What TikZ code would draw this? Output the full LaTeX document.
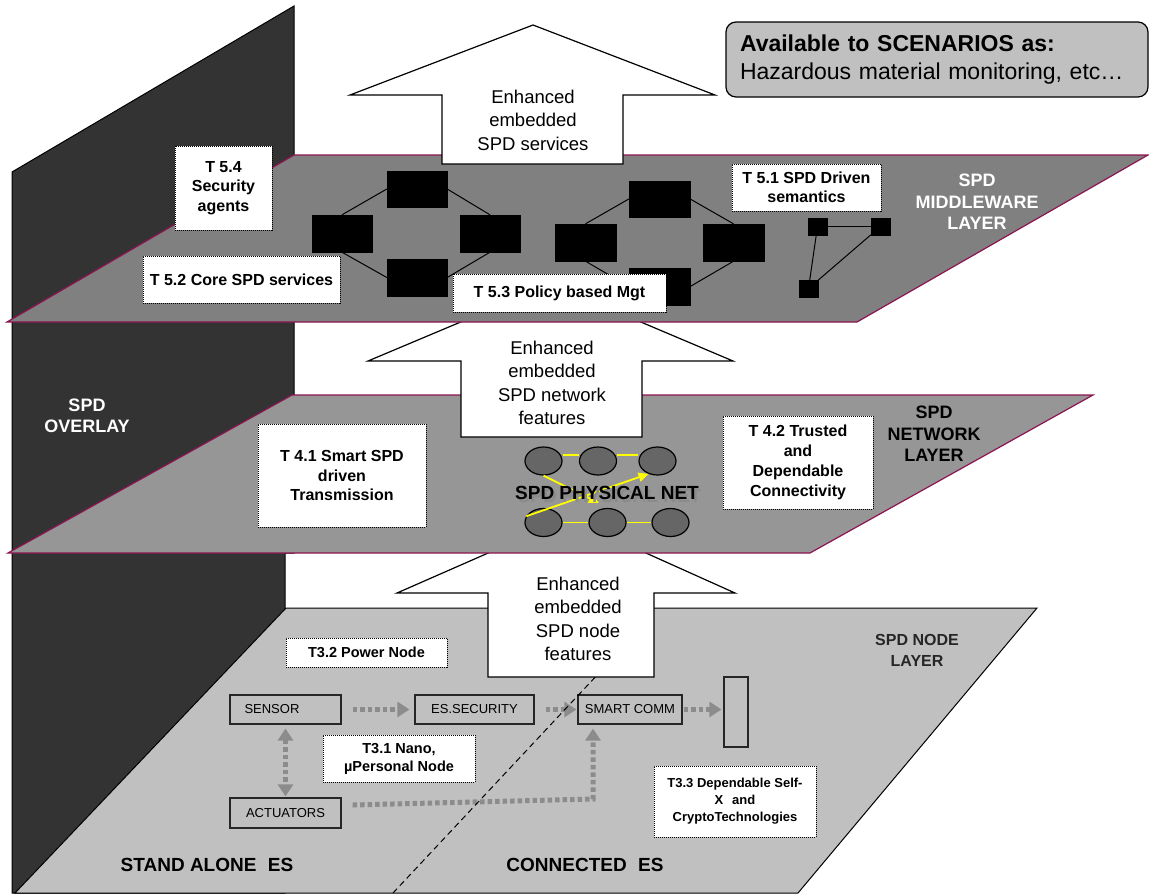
\documentclass[tikz,border=0pt]{standalone}
\usepackage{fontspec}
\setmainfont{Liberation Sans}
\usetikzlibrary{arrows.meta,shapes.geometric}
\definecolor{wallc}{HTML}{333333}
\definecolor{mwc}{HTML}{808080}
\definecolor{nwc}{HTML}{969696}
\definecolor{ndc}{HTML}{C0C0C0}
\definecolor{edgec}{RGB}{140,20,80}
\definecolor{elc}{HTML}{666666}
\definecolor{yel}{HTML}{FFFF00}
\definecolor{garr}{HTML}{8C8C8C}
\definecolor{shadowc}{HTML}{5A5A5A}
\newcommand\fsz[2]{\fontsize{#1}{#2}\selectfont}
\begin{document}
\begin{tikzpicture}[x=1pt,y=-1pt,
  lbl/.style={draw=black, line width=0.9pt, dash pattern=on 1pt off 1pt, fill=white, align=center, inner sep=0pt, font=\fsz{16}{19.5}\bfseries},
  nlbl/.style={lbl, font=\fsz{14.5}{18}\bfseries},
  bigarrow/.style={fill=white, draw=black, line width=1.2pt, line join=miter},
  arrtxt/.style={font=\fsz{18.5}{23.5}, align=center},
  fbox/.style={draw=black!85, line width=1.2pt, fill=ndc, inner sep=0pt, font=\fsz{13}{15}},
  garrow/.style={draw=garr, line width=5pt, dash pattern=on 4.5pt off 3pt, -{Triangle[length=12pt,width=15pt]}},
  blk/.style={fill=black, draw=black, inner sep=0pt},
  mline/.style={draw=black, line width=1pt},
  phys/.style={ellipse, draw=black, line width=1.2pt, fill=elc, minimum width=37pt, minimum height=28pt, inner sep=0pt},
  yline/.style={draw=yel, line width=1.8pt},
  yarr/.style={draw=yel, line width=1.8pt, -{Triangle[length=10pt,width=9pt]}},
  layertxt/.style={font=\fsz{18}{21.5}\bfseries, align=center},
  topbox/.style={draw=black, line width=1.2pt, fill=ndc, rounded corners=10pt, minimum width=422pt, minimum height=75pt, text width=394pt, align=left, inner xsep=14pt, font=\fsz{23}{28}}
]
\useasboundingbox (0,0) rectangle (1149,895);

% ---------- wall ----------
\path[draw=black, fill=wallc, line width=1pt] (12,172) -- (294,6) -- (294,553) -- (285,553) -- (285,893) -- (12,893) -- cycle;

% ---------- node layer ----------
\path[draw=black, fill=ndc, line width=1pt] (15,893) -- (286,608) -- (1037,608) -- (798,893) -- cycle;

\node[fbox, minimum width=111pt, minimum height=29pt] (sensor) at (285.5,709.5) {\makebox[82pt][l]{SENSOR}};
\node[fbox, minimum width=119pt, minimum height=29pt] (essec) at (474.5,709.5) {ES.SECURITY};
\node[fbox, minimum width=104pt, minimum height=29pt] (smart) at (630,709.5) {SMART COMM};
\node[fbox, minimum width=24pt, minimum height=70pt] (outbox) at (736,712) {};
\node[fbox, minimum width=111pt, minimum height=30pt] (act) at (285.5,813) {ACTUATORS};

\draw[garrow, shorten <=11pt, shorten >=5pt] (sensor.east) -- (essec.west);
\draw[garrow, shorten <=11pt, shorten >=1pt] (essec.east) -- (smart.west);
\draw[garrow, shorten <=1pt, shorten >=2pt] (smart.east) -- (smart.east -| outbox.west);
\draw[garrow, {Triangle[length=12pt,width=15pt]}-{Triangle[length=12pt,width=15pt]}, shorten <=4pt, shorten >=1pt] (sensor.south) -- (act.north);
\coordinate (bend) at (593,799);
\draw[garrow] ([shift={(11,-8)}]act.east) -- (bend) -- ([yshift=-4pt]smart.south -| bend);

\coordinate (dl1) at (393,893);
\coordinate (dl2) at (600,672);
\draw[black, line width=1pt, dash pattern=on 6pt off 4pt] (dl1) -- (dl2);

\node[nlbl, minimum width=161pt, minimum height=29pt] (t32) at (366.5,652.5) {T3.2 Power Node};
\node[nlbl, minimum width=152pt, minimum height=47pt] (t31) at (399,758.5) {T3.1 Nano,\\µPersonal Node};
\node[lbl, font=\fsz{13}{17}\bfseries, minimum width=162pt, minimum height=71pt] (t33) at (735,801.5) {T3.3 Dependable Self-\\X\hspace{0.4em} and\\CryptoTechnologies};

\node[font=\fsz{19}{22}\bfseries] (standalone) at (207,865) {STAND ALONE\hspace{0.6em}ES};
\node[font=\fsz{19}{22}\bfseries] (connected) at (585,865) {CONNECTED\hspace{0.6em}ES};
\node[font=\fsz{16}{21}\bfseries, text=black!85, align=center] (ndlayer) at (917,650) {SPD NODE\\LAYER};

% ---------- arrow 3 ----------
\path[bigarrow] (488,677) -- (488,593) -- (397,593) -- (568,518) -- (735,593) -- (654,593) -- (654,677) -- cycle;
\node[arrtxt] (a3txt) at (578,619) {Enhanced\\embedded\\SPD node\\features};

% ---------- network layer ----------
\path[draw=edgec, fill=nwc, line width=1.2pt] (8,553) -- (292,395) -- (1093,395) -- (810,553) -- cycle;

\node[lbl, minimum width=168pt, minimum height=103pt] (t41) at (342,475.5) {T 4.1 Smart SPD\\driven\\Transmission};
\node[lbl, font=\fsz{16}{20}\bfseries, minimum width=150pt, minimum height=93pt] (t42) at (798,462.5) {T 4.2 Trusted\\and\\Dependable\\Connectivity};
\node[layertxt] (nwlayer) at (934,434) {SPD\\NETWORK\\LAYER};
\node[layertxt, text=white] (overlay) at (87,416) {SPD\\OVERLAY};

\node[phys] (e1) at (543.5,461) {};
\node[phys] (e2) at (598,461) {};
\node[phys] (e3) at (657.5,461) {};
\node[phys] (e4) at (543.5,522.5) {};
\node[phys] (e5) at (607.5,522.5) {};
\node[phys] (e6) at (670.5,522.5) {};
\draw[yline] ([yshift=6pt]e1.east) -- ([yshift=6pt]e2.west);
\draw[yline] ([yshift=6pt]e2.east) -- ([yshift=6pt]e3.west);
\draw[yline] (e4) -- (e5);
\draw[yline] (e5) -- (e6);
\coordinate (ytip1) at (599,503);
\draw[yarr] (e1.south) -- (ytip1);
\draw[yarr] (e4.160) -- (e3.235);
\node[font=\fsz{19}{22}\bfseries] (physnet) at (607,494) {\rlap{\hspace{2.5pt}\raisebox{-3pt}{\textcolor{shadowc!70}{SPD PHYSICAL NET}}}SPD PHYSICAL NET};

% ---------- arrow 2 ----------
\path[bigarrow] (461,437) -- (461,361) -- (368,361) -- (551,284) -- (733,361) -- (642,361) -- (642,437) -- cycle;
\node[arrtxt] (a2txt) at (552,383) {Enhanced\\embedded\\SPD network\\features};

% ---------- middleware layer ----------
\path[draw=edgec, fill=mwc, line width=1.2pt] (7,322) -- (294,155) -- (1148,155) -- (857,322) -- cycle;

\node[blk, minimum width=60pt, minimum height=37pt] (a1) at (342,233.5) {};
\node[blk, minimum width=60pt, minimum height=36pt] (a2) at (417,189) {};
\node[blk, minimum width=60pt, minimum height=37pt] (a3) at (417,277.5) {};
\node[blk, minimum width=60pt, minimum height=37pt] (a4) at (490,233.5) {};
\draw[mline] (a1.north) -- (a2.west);
\draw[mline] (a2.east) -- (a4.north);
\draw[mline] (a1.south) -- (a3.west);
\draw[mline] (a3.east) -- (a4.south);

\node[blk, minimum width=61pt, minimum height=37pt] (b1) at (585.5,242.5) {};
\node[blk, minimum width=61pt, minimum height=36pt] (b2) at (659.5,199) {};
\node[blk, minimum width=61pt, minimum height=37pt] (b3) at (659.5,286.5) {};
\node[blk, minimum width=61pt, minimum height=37pt] (b4) at (733.5,242.5) {};
\draw[mline] (b1.north) -- (b2.west);
\draw[mline] (b2.east) -- (b4.north);
\draw[mline] (b1.south) -- (b3.west);
\draw[mline] (b3.east) -- (b4.south);

\node[blk, minimum width=19pt, minimum height=17pt] (c1) at (817.5,226.5) {};
\node[blk, minimum width=19pt, minimum height=17pt] (c2) at (880.5,226.5) {};
\node[blk, minimum width=19pt, minimum height=17pt] (c3) at (808.5,288.5) {};
\draw[mline] (c1) -- (c2);
\draw[mline] (c1) -- (c3);
\draw[mline] (c2) -- (c3);

\node[lbl, minimum width=97pt, minimum height=84pt] (t54) at (223.5,188) {T 5.4\\Security\\agents};
\node[lbl, minimum width=197pt, minimum height=47pt] (t52) at (241.5,279.5) {T 5.2 Core SPD services};
\node[lbl, minimum width=213pt, minimum height=38pt] (t53) at (559.5,293) {T 5.3 Policy based Mgt};
\node[lbl, minimum width=149pt, minimum height=47pt] (t51) at (806.5,187.5) {T 5.1 SPD Driven\\semantics};
\node[layertxt, text=white] (mwlayer) at (977,202) {SPD\\MIDDLEWARE\\LAYER};

% ---------- arrow 1 ----------
\path[bigarrow] (442,164) -- (442,95) -- (350,95) -- (533,25) -- (715,95) -- (623,95) -- (623,164) -- cycle;
\node[arrtxt] (a1txt) at (533,120) {Enhanced\\embedded\\SPD services};

% ---------- top box ----------
\node[topbox] (avail) at (937,59.5) {\textbf{Available to SCENARIOS as:}\\Hazardous material monitoring, etc…};
\end{tikzpicture}
\end{document}
